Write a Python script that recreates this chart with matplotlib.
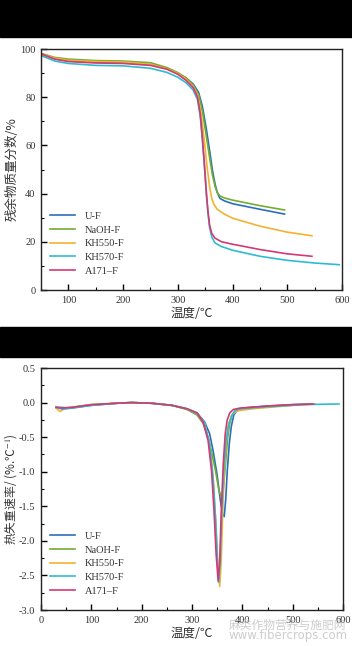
import matplotlib.pyplot as plt
from matplotlib.patches import Rectangle
from matplotlib.ticker import MultipleLocator

cjk = ['Noto Sans CJK SC', 'DejaVu Sans']
serif = ['Liberation Serif', 'DejaVu Serif']
plt.rcParams['font.family'] = serif
plt.rcParams['mathtext.fontset'] = 'stix'

labels = ['U-F', 'NaOH-F', 'KH550-F', 'KH570-F', 'A171–F']
colors = ['#2a6fba', '#72ad2f', '#f2b233', '#2fbad3', '#d23a74']

# TGA: residual mass (%) vs temperature
tga_T = [
    [50, 75, 100, 150, 200, 250, 280, 300, 315, 328, 338, 345, 352, 358, 363, 368, 372, 377, 385, 400, 450, 495],
    [50, 75, 100, 150, 200, 250, 280, 300, 315, 328, 338, 345, 352, 358, 363, 368, 372, 377, 385, 400, 450, 495],
    [50, 75, 100, 150, 200, 250, 280, 300, 315, 328, 336, 342, 348, 353, 358, 362, 366, 372, 385, 400, 450, 500, 545],
    [50, 75, 100, 150, 200, 250, 280, 300, 315, 328, 336, 341, 345, 349, 352, 355, 358, 362, 368, 380, 400, 450, 500, 550, 595],
    [50, 75, 100, 150, 200, 250, 280, 300, 315, 328, 336, 341, 345, 349, 352, 355, 358, 362, 368, 380, 400, 450, 500, 545],
]
tga_v = [
    [98, 96, 95, 94.5, 94.5, 93.5, 92, 90, 88, 85.5, 82, 76, 67, 58, 50, 44, 40.5, 38, 37, 35.8, 33.5, 31.5],
    [98.2, 96.5, 95.8, 95.2, 95, 94.3, 92.3, 90.2, 88, 85, 81, 74, 64, 55, 48, 43, 40.5, 39, 38.2, 37.3, 35, 33.2],
    [98, 96.2, 95.3, 94.8, 94.6, 93.6, 91.8, 89.8, 87.5, 84.5, 81, 74, 63, 52, 43, 38, 35.5, 33.5, 31.5, 29.8, 26.5, 24, 22.5],
    [97.3, 95, 94, 93.2, 93, 92, 90.3, 88.3, 86, 83, 79, 72, 62, 50, 40, 32, 26, 22, 19.5, 18, 16.5, 14, 12.3, 11.2, 10.5],
    [98, 95.8, 94.8, 94.2, 94, 93.2, 91.6, 89.5, 87, 84, 80, 73, 63, 51, 41, 33, 27, 23.5, 21.5, 20, 19, 16.8, 15, 14],
]

# DTG: mass loss rate (%/°C) vs temperature
dtg_T = [
    [30, 40, 60, 100, 150, 180, 220, 260, 290, 310, 325, 335, 342, 350, 356, 361, 364, 367, 370, 374, 378, 383, 390, 400, 450, 500, 540],
    [30, 40, 60, 100, 150, 180, 220, 260, 290, 310, 322, 332, 340, 347, 353, 359, 363, 367, 371, 375, 380, 386, 395, 420, 495],
    [30, 38, 45, 60, 100, 150, 180, 220, 260, 290, 310, 325, 335, 342, 347, 351, 355, 358, 361, 364, 368, 373, 380, 390, 420, 500, 545],
    [30, 43, 50, 60, 100, 150, 180, 220, 260, 290, 310, 325, 335, 342, 347, 350, 353, 356, 359, 363, 367, 372, 378, 385, 395, 450, 520, 592],
    [30, 40, 60, 100, 150, 180, 220, 260, 290, 310, 322, 332, 339, 344, 348, 352, 355, 358, 362, 366, 370, 375, 382, 395, 450, 500, 541],
]
dtg_v = [
    [-0.07, -0.07, -0.08, -0.04, -0.01, 0, -0.01, -0.04, -0.09, -0.15, -0.28, -0.45, -0.7, -1.05, -1.4, -1.62, -1.65, -1.4, -1.0, -0.6, -0.35, -0.18, -0.11, -0.08, -0.05, -0.03, -0.02],
    [-0.07, -0.08, -0.07, -0.03, -0.01, 0, -0.01, -0.04, -0.1, -0.18, -0.3, -0.5, -0.75, -1.0, -1.25, -1.39, -1.2, -0.85, -0.5, -0.3, -0.18, -0.12, -0.09, -0.07, -0.04],
    [-0.08, -0.13, -0.09, -0.07, -0.03, -0.01, 0, -0.01, -0.04, -0.09, -0.16, -0.3, -0.6, -1.1, -1.7, -2.3, -2.66, -2.3, -1.6, -1.0, -0.55, -0.3, -0.17, -0.12, -0.09, -0.04, -0.02],
    [-0.06, -0.1, -0.09, -0.08, -0.04, -0.01, 0, -0.01, -0.04, -0.09, -0.16, -0.3, -0.6, -1.1, -1.7, -2.2, -2.6, -2.3, -1.6, -1.0, -0.6, -0.35, -0.2, -0.12, -0.09, -0.06, -0.03, -0.02],
    [-0.07, -0.08, -0.07, -0.03, -0.01, 0, -0.01, -0.04, -0.09, -0.15, -0.28, -0.55, -1.0, -1.6, -2.2, -2.58, -2.3, -1.6, -0.9, -0.45, -0.25, -0.15, -0.1, -0.08, -0.05, -0.03, -0.02],
]

fig = plt.figure(figsize=(3.52, 6.46), dpi=100)
fig.patches.append(Rectangle((0, 1 - 37 / 646), 1, 37 / 646, transform=fig.transFigure, color='black', zorder=0))
fig.patches.append(Rectangle((0, 1 - 357 / 646), 1, 30 / 646, transform=fig.transFigure, color='black', zorder=0))

ax1 = fig.add_axes([41 / 352, 1 - 290 / 646, 301 / 352, 241 / 646])
ax2 = fig.add_axes([41 / 352, 1 - 610 / 646, 302 / 352, 242 / 646])

for T, v, c, lab in zip(tga_T, tga_v, colors, labels):
    ax1.plot(T, v, color=c, lw=1.2, label=lab)
for T, v, c, lab in zip(dtg_T, dtg_v, colors, labels):
    ax2.plot(T, v, color=c, lw=1.2, label=lab)

ax1.set_xlim(50, 600)
ax1.set_ylim(0, 100)
ax1.xaxis.set_major_locator(MultipleLocator(100))
ax1.xaxis.set_minor_locator(MultipleLocator(50))
ax1.yaxis.set_major_locator(MultipleLocator(20))
ax1.yaxis.set_minor_locator(MultipleLocator(10))

ax2.set_xlim(0, 600)
ax2.set_ylim(-3.0, 0.5)
ax2.xaxis.set_major_locator(MultipleLocator(100))
ax2.xaxis.set_minor_locator(MultipleLocator(50))
ax2.yaxis.set_major_locator(MultipleLocator(0.5))
ax2.yaxis.set_minor_locator(MultipleLocator(0.25))
ax2.yaxis.set_major_formatter(plt.FormatStrFormatter('%.1f'))

for ax in (ax1, ax2):
    for s in ax.spines.values():
        s.set_linewidth(1.0)
        s.set_color('#222222')
    ax.tick_params(which='major', direction='in', length=4, width=1.0,
                   labelsize=7.5, labelcolor='#333333', pad=4)
    ax.tick_params(which='minor', direction='in', length=2, width=0.8)
    ax.set_xlabel('温度/℃', family=cjk, fontsize=9, color='#333333', labelpad=2)
    ax.legend(loc='lower left', bbox_to_anchor=(0.0, 0.02), frameon=False,
              fontsize=7.5, handlelength=2.4, handletextpad=0.9,
              labelspacing=0.42, labelcolor='#333333')

ax1.set_ylabel('残余物质量分数/%', family=cjk, fontsize=9, color='#333333')
ax2.set_ylabel('热失重速率/ (%.℃$^{-1}$)', family=cjk, fontsize=8.5, color='#333333')
ax1.yaxis.set_label_coords(-0.075, 0.5)
ax2.yaxis.set_label_coords(-0.072, 0.5)

fig.text(288 / 352, 1 - 625 / 646, '麻类作物营养与施肥网', family=cjk, fontsize=8.5,
         color='#b8b8b8', alpha=0.7, ha='center', va='center')
fig.text(288 / 352, 1 - 635 / 646, 'www.fibercrops.com', family=['DejaVu Sans'], fontsize=8.5,
         color='#b8b8b8', alpha=0.7, ha='center', va='center')

fig.savefig('out.png', dpi=100)
